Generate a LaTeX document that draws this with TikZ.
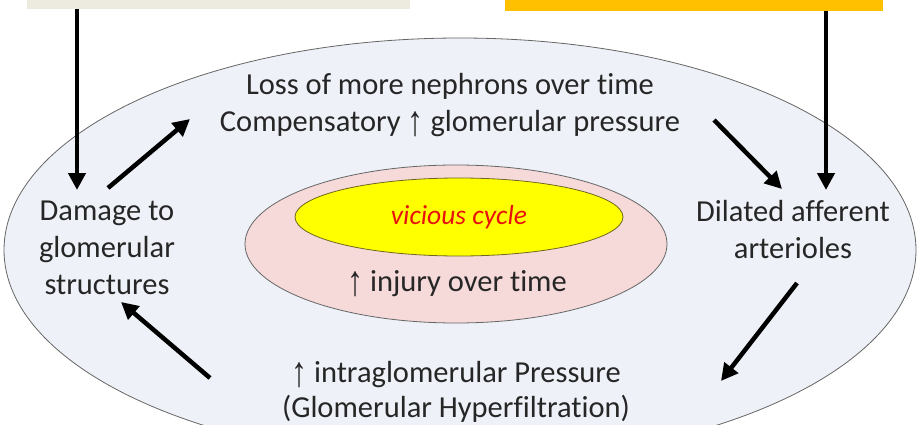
\documentclass[tikz,border=0pt]{standalone}
\usepackage{graphicx}
\usepackage{fontspec}
\setmainfont[Ligatures=NoCommon]{Carlito}
\newfontfamily\arrowfont{Liberation Sans}
\usetikzlibrary{shapes.geometric,arrows.meta}
\newcommand{\uparr}{\raisebox{-0.14em}{\scalebox{1.05}[1.4]{\arrowfont\char"2191}}}
\definecolor{bigfill}{HTML}{EEF1F7}
\definecolor{pinkfill}{HTML}{F6D9D9}
\definecolor{yelfill}{HTML}{FFFF00}
\definecolor{beige}{HTML}{EDEBE0}
\definecolor{orangebox}{HTML}{FFC000}
\definecolor{redtxt}{HTML}{E8120C}
\begin{document}
\begin{tikzpicture}[x=1pt,y=-1pt,
  lbl/.style={font=\fontsize{30.5}{37}\selectfont, align=center, inner sep=0pt, text=black!85},
  ell/.style={ellipse, draw=gray!80!black, line width=0.8pt, inner sep=0pt},
  thick arrow/.style={line width=4.5pt, -{Triangle[length=17pt,width=17pt]}},
  topbox/.style={inner sep=0pt}]
\useasboundingbox (0,0) rectangle (920,425);
\clip (0,0) rectangle (920,425);
\fill[white] (0,0) rectangle (920,425);
% top boxes
\node[topbox, fill=beige, minimum width=383pt, minimum height=14pt, anchor=south west] (leftbox) at (27,9) {};
\node[topbox, fill=orangebox, minimum width=378pt, minimum height=16pt, anchor=south west] (rightbox) at (505,11) {};
% ellipses
\node[ell, fill=bigfill, minimum width=912pt, minimum height=424pt] (big) at (460,250) {};
\node[ell, fill=pinkfill, minimum width=422pt, minimum height=158pt] (pink) at (456,244) {};
\node[ell, fill=yelfill, draw=olive!70!black, minimum width=328pt, minimum height=78pt] (yel) at (459,217) {};
% texts
\node[lbl, text=redtxt, font=\fontsize{27.5}{32}\selectfont\itshape] (vc) at (459,217) {vicious cycle};
\node[lbl] (inj) at (457,284) {\uparr{} injury over time};
\node[lbl] (loss) at (450,105) {Loss of more nephrons over time\\Compensatory \uparr{} glomerular pressure};
\node[lbl] (damage) at (107,248) {Damage to\\glomerular\\structures};
\node[lbl] (dilated) at (793,230) {Dilated afferent\\arterioles};
\node[lbl, font=\fontsize{30.5}{35}\selectfont] (intra) at (456,392) {\uparr{} intraglomerular Pressure\\(Glomerular Hyperfiltration)};
% arrow endpoints
\coordinate (a1s) at (77,9);   \coordinate (a1e) at (77,190);
\coordinate (a2s) at (826,11); \coordinate (a2e) at (826,190);
\coordinate (a3s) at (108,188); \coordinate (a3e) at (190,119);
\coordinate (a4s) at (714,120); \coordinate (a4e) at (782,189);
\coordinate (a5s) at (797,283); \coordinate (a5e) at (721,381);
\coordinate (a6s) at (210,378); \coordinate (a6e) at (121,302);
\draw[thick arrow] (a1s) -- (a1e);
\draw[thick arrow] (a2s) -- (a2e);
\draw[thick arrow] (a3s) -- (a3e);
\draw[thick arrow] (a4s) -- (a4e);
\draw[thick arrow] (a5s) -- (a5e);
\draw[thick arrow] (a6s) -- (a6e);
\end{tikzpicture}
\end{document}
